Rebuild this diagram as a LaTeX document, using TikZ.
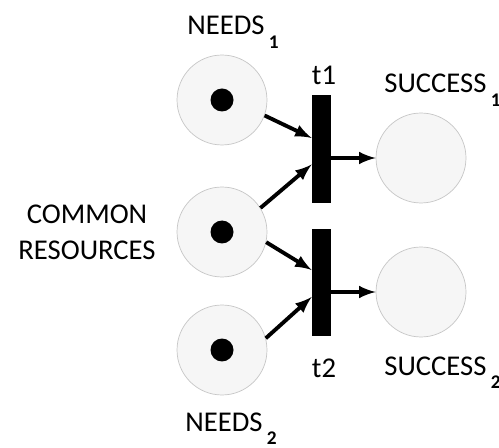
\documentclass[tikz,border=0pt]{standalone}
\usepackage{fontspec}
\setmainfont{Carlito}
\usetikzlibrary{arrows}
\usetikzlibrary{calc}

\tikzset{
	place/.style={circle,draw=gray!45,fill=gray!7,minimum size=1.8cm,inner sep=0pt},
	token/.style={circle,fill=black,minimum size=0.46cm,inner sep=0pt},
	trans/.style={rectangle,fill=black,minimum width=0.38cm,minimum height=2.16cm,inner sep=0pt},
	arc/.style={line width=2.2pt,-latex},
	lbl/.style={font=\fontsize{16.3}{20.4}\selectfont,inner sep=0pt}
}
\newcommand{\lowidx}[1]{\hspace{2.5pt}\raisebox{-7.5pt}{\fontsize{11}{12}\selectfont\bfseries #1}}

\begin{document}
\begin{tikzpicture}[x=0.02cm,y=-0.02cm]
	\useasboundingbox (0,0) rectangle (499,448);
	% places
	\node[place] (n1) at (222,100) {};
	\node[place] (com) at (222,232) {};
	\node[place] (n2) at (222,350) {};
	\node[place] (s1) at (421,158) {};
	\node[place] (s2) at (421,292) {};
	\node[token] (k1) at (n1) {};
	\node[token] (kc) at (com) {};
	\node[token] (k2) at (n2) {};
	% transitions
	\node[trans] (t1) at (321.5,149) {};
	\node[trans] (t2) at (321.5,282.5) {};
	% arcs
	\draw[arc] (n1.-20) -- ([yshift=0.22cm]t1.west);
	\draw[arc] (com.32) -- ([yshift=-0.31cm]t1.west);
	\draw[arc] (com.-13) -- ([yshift=0.25cm]t2.west);
	\draw[arc] (n2.15) -- ([yshift=-0.29cm]t2.west);
	\draw[arc] (t1.east |- s1.west) -- (s1.west);
	\draw[arc] (t2.east |- s2.west) -- (s2.west);
	% labels
	\node[lbl,anchor=base west] (ln1) at (187,35) {NEEDS\lowidx{1}};
	\node[lbl,anchor=base west] (ln2) at (185,431) {NEEDS\lowidx{2}};
	\node[lbl,anchor=base] (lt1) at (324,85) {t1};
	\node[lbl,anchor=base] (lt2) at (324,377) {t2};
	\node[lbl,anchor=base west] (ls1) at (384,93) {SUCCESS\lowidx{1}};
	\node[lbl,anchor=base west] (ls2) at (384,375) {SUCCESS\lowidx{2}};
	\node[lbl,align=center] (lcom) at (87,232) {COMMON\\RESOURCES};
\end{tikzpicture}
\end{document}
